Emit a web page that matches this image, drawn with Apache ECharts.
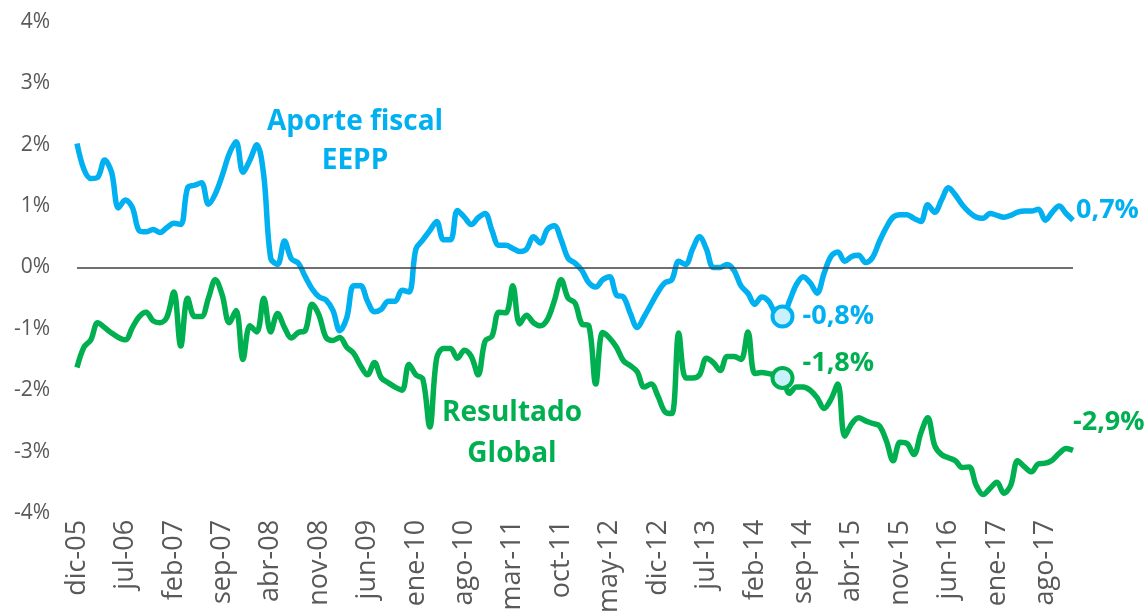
<!DOCTYPE html>
<html>
<head>
<meta charset="utf-8">
<script src="https://cdn.jsdelivr.net/npm/echarts@6/dist/echarts.min.js"></script>
<style>
  html, body { margin: 0; padding: 0; background: #fff; }
  #chart { width: 1148px; height: 616px; }
</style>
</head>
<body>
<div id="chart"></div>
<script>
// meses dic-05 .. dic-17
const monthNames = ['ene', 'feb', 'mar', 'abr', 'may', 'jun', 'jul', 'ago', 'sep', 'oct', 'nov', 'dic']
const categories = []
for (let k = 0; k < 145; k++) {
  const m = (11 + k) % 12
  const y = 5 + Math.floor((11 + k) / 12)
  categories.push(monthNames[m] + '-' + String(y).padStart(2, '0'))
}

// Aporte fiscal EEPP (% del PIB)
const aporteFiscal = [
  2.02, 1.6, 1.45, 1.47, 1.75, 1.55, 0.97, 1.1, 0.98, 0.6,
  0.58, 0.62, 0.57, 0.65, 0.72, 0.7, 1.3, 1.34, 1.38, 1.03,
  1.2, 1.5, 1.85, 2.05, 1.55, 1.75, 2.0, 1.5, 0.15, 0.05,
  0.43, 0.14, 0.07, -0.15, -0.35, -0.48, -0.53, -0.7, -1.03, -0.82,
  -0.3, -0.3, -0.55, -0.72, -0.68, -0.55, -0.55, -0.37, -0.4, 0.3,
  0.45, 0.6, 0.75, 0.45, 0.45, 0.93, 0.82, 0.7, 0.81, 0.88,
  0.6, 0.36, 0.36, 0.31, 0.26, 0.3, 0.5, 0.4, 0.62, 0.68,
  0.45, 0.15, 0.07, -0.05, -0.25, -0.32, -0.2, -0.15, -0.45, -0.48,
  -0.75, -0.98, -0.8, -0.6, -0.4, -0.25, -0.2, 0.1, 0.05, 0.3,
  0.5, 0.3, 0.0, 0.0, 0.05, -0.05, -0.3, -0.42, -0.6, -0.48,
  -0.55, -0.75, -0.8, -0.55, -0.28, -0.15, -0.25, -0.42, -0.1, 0.18,
  0.25, 0.1, 0.18, 0.2, 0.08, 0.16, 0.42, 0.65, 0.82, 0.86,
  0.86, 0.8, 0.75, 1.02, 0.9, 1.1, 1.3, 1.18, 1.02, 0.9,
  0.82, 0.8, 0.88, 0.85, 0.82, 0.85, 0.9, 0.92, 0.92, 0.95,
  0.77, 0.9, 1.0, 0.88, 0.77
]

// Resultado Global (% del PIB)
const resultadoGlobal = [
  -1.63, -1.3, -1.18, -0.9, -0.98, -1.07, -1.14, -1.18, -0.98, -0.8,
  -0.73, -0.87, -0.9, -0.81, -0.4, -1.28, -0.5, -0.8, -0.8, -0.5,
  -0.2, -0.45, -0.9, -0.7, -1.5, -0.95, -1.05, -0.5, -1.05, -0.75,
  -0.98, -1.15, -1.06, -1.03, -0.6, -0.78, -1.14, -1.19, -1.14, -1.3,
  -1.4, -1.6, -1.75, -1.55, -1.8, -1.88, -1.95, -2.0, -1.58, -1.75,
  -1.82, -2.6, -1.48, -1.32, -1.32, -1.48, -1.35, -1.45, -1.75, -1.2,
  -1.12, -0.73, -0.74, -0.3, -0.92, -0.78, -0.9, -0.95, -0.85, -0.55,
  -0.2, -0.5, -0.58, -0.92, -0.95, -1.9, -1.06, -1.15, -1.3, -1.52,
  -1.6, -1.7, -1.95, -1.9, -2.1, -2.35, -2.38, -1.07, -1.8, -1.8,
  -1.75, -1.48, -1.55, -1.68, -1.45, -1.45, -1.5, -1.05, -1.73, -1.71,
  -1.73, -1.75, -1.8, -2.05, -1.95, -1.95, -2.0, -2.12, -2.3, -2.15,
  -1.9, -2.75, -2.55, -2.45, -2.5, -2.54, -2.58, -2.82, -3.15, -2.85,
  -2.87, -3.05, -2.7, -2.45, -2.9, -3.05, -3.1, -3.15, -3.26, -3.25,
  -3.55, -3.7, -3.6, -3.5, -3.68, -3.55, -3.15, -3.25, -3.33, -3.2,
  -3.19, -3.14, -3.03, -2.95, -2.98
]

const markIndex = 102 // jun-14
const blue = '#00B0F0'
const green = '#00B050'
const fontName = "'Open Sans', sans-serif"

const chart = echarts.init(document.getElementById('chart'))
chart.setOption({
  animation: false,
  grid: { left: 77, right: 75, top: 22, bottom: 103 },
  xAxis: {
    type: 'category',
    data: categories,
    boundaryGap: false,
    axisLine: { show: false },
    axisTick: { show: false },
    axisLabel: {
      interval: 6,
      rotate: 90,
      margin: 7,
      color: '#595959',
      fontSize: 27,
      fontFamily: fontName
    }
  },
  yAxis: {
    type: 'value',
    min: -4,
    max: 4,
    interval: 1,
    splitLine: { show: false },
    axisLine: { show: false },
    axisTick: { show: false },
    axisLabel: {
      margin: 27,
      color: '#595959',
      fontSize: 21,
      fontFamily: fontName,
      formatter: v => v + '%'
    }
  },
  series: [
    {
      name: 'Resultado Global',
      type: 'line',
      data: resultadoGlobal,
      smooth: 0.35,
      showSymbol: false,
      lineStyle: { color: green, width: 5.5 },
      itemStyle: { color: green },
      endLabel: {
        show: true,
        formatter: '-2,9%',
        distance: 0,
        offset: [0, -28],
        color: green,
        fontSize: 27,
        fontWeight: 'bold',
        fontFamily: fontName
      },
      markPoint: {
        symbol: 'circle',
        symbolSize: 20,
        itemStyle: { color: '#C9F1FC', borderColor: green, borderWidth: 4 },
        label: {
          show: true,
          position: 'right',
          distance: 8,
          offset: [0, -15],
          formatter: '-1,8%',
          color: green,
          fontSize: 27,
          fontWeight: 'bold',
          fontFamily: fontName
        },
        data: [{ coord: [markIndex, resultadoGlobal[markIndex]] }]
      }
    },
    {
      name: 'Aporte fiscal EEPP',
      type: 'line',
      data: aporteFiscal,
      smooth: 0.35,
      showSymbol: false,
      lineStyle: { color: blue, width: 5.5 },
      itemStyle: { color: blue },
      endLabel: {
        show: true,
        formatter: '0,7%',
        distance: 3,
        offset: [0, -10],
        color: blue,
        fontSize: 27,
        fontWeight: 'bold',
        fontFamily: fontName
      },
      markLine: {
        silent: true,
        symbol: 'none',
        label: { show: false },
        lineStyle: { color: '#404040', width: 1.5, type: 'solid' },
        data: [{ yAxis: 0 }]
      },
      markPoint: {
        symbol: 'circle',
        symbolSize: 20,
        itemStyle: { color: '#C9F1FC', borderColor: blue, borderWidth: 4 },
        label: {
          show: true,
          position: 'right',
          distance: 8,
          formatter: '-0,8%',
          color: blue,
          fontSize: 27,
          fontWeight: 'bold',
          fontFamily: fontName
        },
        data: [{ coord: [markIndex, aporteFiscal[markIndex]] }]
      }
    }
  ],
  graphic: [
    {
      type: 'text',
      x: 355,
      y: 103,
      style: {
        text: 'Aporte fiscal\nEEPP',
        fill: blue,
        font: "bold 28px 'Open Sans', sans-serif",
        align: 'center',
        verticalAlign: 'top',
        lineHeight: 39
      }
    },
    {
      type: 'text',
      x: 512,
      y: 393,
      style: {
        text: 'Resultado\nGlobal',
        fill: green,
        font: "bold 28px 'Open Sans', sans-serif",
        align: 'center',
        verticalAlign: 'top',
        lineHeight: 41
      }
    }
  ]
})
</script>
</body>
</html>
